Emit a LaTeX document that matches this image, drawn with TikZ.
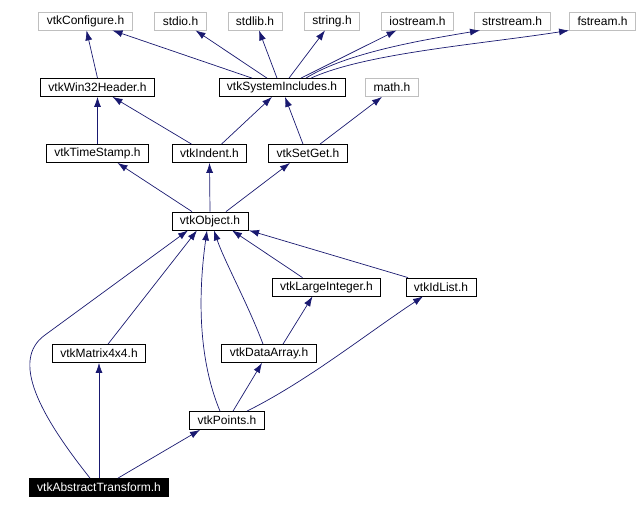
\documentclass[tikz,border=0pt]{standalone}
\usepackage{fontspec}
\setmainfont{Liberation Sans}
\usetikzlibrary{arrows.meta}
\definecolor{edgeblue}{HTML}{191970}
\definecolor{sysgray}{HTML}{BFBFBF}

\begin{document}
\begin{tikzpicture}[
    x=1pt, y=-1pt,
    hdr/.style={draw=black, line width=0.8pt, inner xsep=8pt, inner ysep=0pt,
      minimum height=18pt, font=\fontsize{12}{14}\selectfont},
    syshdr/.style={hdr, draw=sysgray},
    curhdr/.style={hdr, fill=black, text=white},
    dep/.style={draw=edgeblue, line width=0.7pt, -{Latex[length=10pt,width=7pt]}},
  ]
  \useasboundingbox (0,0) rectangle (636,509);

  % system headers
  \node[syshdr] (conf)  at (85.5,21)  {vtkConfigure.h};
  \node[syshdr] (stdio) at (180.5,21) {stdio.h};
  \node[syshdr] (stdl)  at (255,21)   {stdlib.h};
  \node[syshdr] (str)   at (332,21)   {string.h};
  \node[syshdr] (iostr) at (417.5,21) {iostream.h};
  \node[syshdr] (sstr)  at (512,21)   {strstream.h};
  \node[syshdr] (fstr)  at (602.5,21) {fstream.h};
  \node[syshdr] (math)  at (392,87.5) {math.h};

  % vtk headers
  \node[hdr] (win)   at (97.5,87.5)  {vtkWin32Header.h};
  \node[hdr] (sys)   at (282,87.5)   {vtkSystemIncludes.h};
  \node[hdr] (tstamp) at (97.5,153.5) {vtkTimeStamp.h};
  \node[hdr] (indent) at (209.5,153.5) {vtkIndent.h};
  \node[hdr] (setget) at (308,153.5)  {vtkSetGet.h};
  \node[hdr] (obj)   at (210,221)    {vtkObject.h};
  \node[hdr] (lint)  at (326.5,287)  {vtkLargeInteger.h};
  \node[hdr] (idl)   at (441,287)    {vtkIdList.h};
  \node[hdr] (mat)   at (99,353.5)   {vtkMatrix4x4.h};
  \node[hdr] (darr)  at (269,353.5)  {vtkDataArray.h};
  \node[hdr] (pts)   at (227,420.5)  {vtkPoints.h};
  \node[curhdr] (abs) at (99,487.5)  {vtkAbstractTransform.h};

  % includes of vtkSystemIncludes.h
  \draw[dep] ([xshift=-30pt]sys.north) -- ([xshift=27pt]conf.south);
  \draw[dep] ([xshift=-15pt]sys.north) -- ([xshift=15pt]stdio.south);
  \draw[dep] ([xshift=-5pt]sys.north) -- ([xshift=4pt]stdl.south);
  \draw[dep] ([xshift=7pt]sys.north) -- ([xshift=-7pt]str.south);
  \draw[dep] ([xshift=19pt]sys.north) -- ([xshift=-21pt]iostr.south);
  \draw[dep] ([xshift=24pt]sys.north) .. controls +(40,-25) and +(-60,10) .. ([xshift=-32pt]sstr.south);
  \draw[dep] ([xshift=29pt]sys.north) .. controls +(55,-25) and +(-90,14) .. (fstr.south west);

  % second row
  \draw[dep] (win.north) -- ([xshift=1pt]conf.south);
  \draw[dep] (tstamp.north) -- (win.south);
  \draw[dep] ([xshift=-18pt]indent.north) -- ([xshift=15pt]win.south);
  \draw[dep] ([xshift=12pt]indent.north) -- ([xshift=-10pt]sys.south);
  \draw[dep] ([xshift=-5pt]setget.north) -- ([xshift=3pt]sys.south);
  \draw[dep] ([xshift=12pt]setget.north) -- ([xshift=-10pt]math.south);

  % vtkObject.h
  \draw[dep] ([xshift=-18pt]obj.north) -- ([xshift=20pt]tstamp.south);
  \draw[dep] (obj.north) -- (indent.south);
  \draw[dep] ([xshift=16pt]obj.north) -- ([xshift=-18pt]setget.south);

  % users of vtkObject.h
  \draw[dep] ([xshift=-24pt]lint.north) -- ([xshift=22pt]obj.south);
  \draw[dep] ([xshift=-33pt]idl.north) -- ([xshift=39pt]obj.south);
  \draw[dep] ([xshift=9pt]mat.north) -- ([xshift=-13pt]obj.south);
  \draw[dep] ([xshift=-6pt]darr.north) .. controls +(-15,-40) and +(10,30) .. ([xshift=4pt]obj.south);
  \draw[dep] ([xshift=14pt]darr.north) -- ([xshift=-14pt]lint.south);
  \draw[dep] ([xshift=-7pt]pts.north) .. controls +(-25,-60) and +(-7,50) .. ([xshift=-3pt]obj.south);
  \draw[dep] ([xshift=6pt]pts.north) -- ([xshift=-7pt]darr.south);
  \draw[dep] ([xshift=20pt]pts.north) .. controls +(60,-30) and +(-60,40) .. ([xshift=-18pt]idl.south);

  % vtkAbstractTransform.h
  \draw[dep] ([xshift=-9pt]abs.north) .. controls +(-50,-63) and +(-35,25) .. (45,335) -- ([xshift=-22pt]obj.south);
  \draw[dep] (abs.north) -- (mat.south);
  \draw[dep] ([xshift=19pt]abs.north) -- ([xshift=-27pt]pts.south);
\end{tikzpicture}
\end{document}
